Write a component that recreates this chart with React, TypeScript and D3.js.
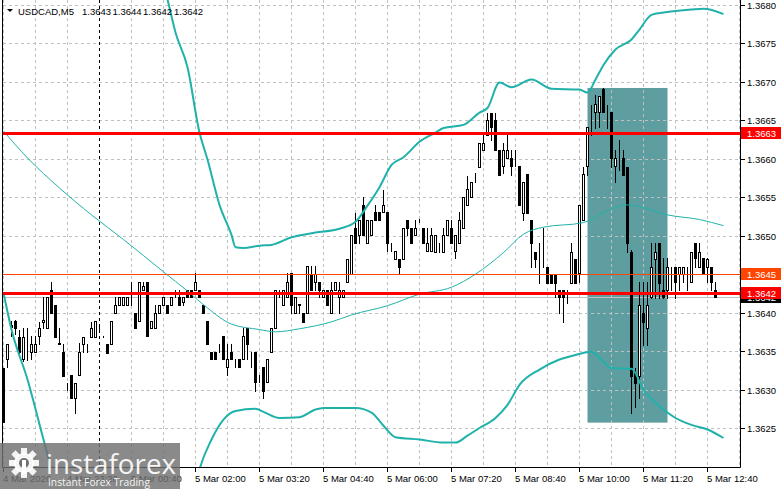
import React from "react";
import * as d3 from "d3";

const W = 781;
const H = 489;
const PLOT_L = 2.5;
const PLOT_R = 740.5;
const PLOT_B = 467.5;

const symbolTitle = "USDCAD,M5";
const titleOHLC = ["1.3643", "1.3644", "1.3642", "1.3642"];

// bar 0 = 4 Mar 22:00, M5 bars
const openP = [
  1.36328,1.3634,1.36384,1.36389,1.36368,1.3634,1.36365,1.36349,1.36349,1.3637,
  1.36388,1.3638,1.3643,1.3641,1.36361,1.36349,1.36309,1.36319,1.36289,1.36319,
  1.36359,1.36359,1.36368,1.36368,1.36381,1.3637,1.36359,1.36359,1.364,1.3641,
  1.3641,1.3641,1.3641,1.364,1.36389,1.3643,1.3644,1.3638,1.3638,1.364,
  1.3641,1.3641,1.3641,1.3643,1.3642,1.36414,1.3643,1.3643,1.3643,1.3643,
  1.3641,1.36389,1.36349,1.36349,1.36358,1.3637,1.36329,1.36349,1.3634,1.3634,
  1.3634,1.3638,1.3634,1.36349,1.36319,1.36329,1.3631,1.36349,1.3638,1.3643,
  1.3641,1.3642,1.36452,1.364,1.3641,1.364,1.364,1.3645,1.3644,1.3644,
  1.3642,1.3643,1.364,1.3643,1.3642,1.3642,1.3644,1.3645,1.3651,1.36501,
  1.3654,1.36491,1.36501,1.36531,1.36531,1.36531,1.36531,1.36491,1.3647,1.3647,
  1.3647,1.3652,1.3651,1.36501,1.3652,1.3651,1.3648,1.3648,1.36479,1.36491,
  1.36479,1.36501,1.3651,1.3648,1.36491,1.3651,1.3654,1.3655,1.36578,1.36589,
  1.36611,1.36631,1.3666,1.3665,1.36611,1.36591,1.36601,1.36601,1.36601,1.36591,
  1.3653,1.3658,1.3652,1.36479,1.36479,1.36475,1.36459,1.3645,1.3645,1.3643,
  1.3643,1.36427,1.36439,1.3647,1.36452,1.3652,1.36591,1.36652,1.36661,1.36661,
  1.36691,1.36661,1.36661,1.36591,1.36611,1.36601,1.36589,1.36479,1.36322,1.36318,
  1.364,1.3638,1.3642,1.3647,1.36491,1.3643,1.3643,1.3645,1.36459,1.3645,
  1.3645,1.3645,1.3644,1.36491,1.36459,1.36471,1.36459,1.36459,1.3643
];
const highP = [
  1.36328,1.36359,1.36389,1.3639,1.36378,1.3638,1.3638,1.3637,1.3637,1.36388,
  1.3642,1.3642,1.3644,1.3641,1.3638,1.36359,1.36309,1.36319,1.36309,1.36361,
  1.36368,1.36359,1.36388,1.36389,1.36384,1.3637,1.36359,1.36389,1.3642,1.3642,
  1.3642,1.3642,1.3644,1.364,1.3644,1.3644,1.3644,1.36389,1.3641,1.3641,
  1.3642,1.3641,1.3642,1.3643,1.3643,1.3642,1.3643,1.3643,1.36452,1.3643,
  1.3641,1.36389,1.36349,1.36349,1.36359,1.3637,1.36359,1.36359,1.3634,1.3634,
  1.3638,1.3638,1.36349,1.36349,1.36319,1.36329,1.3634,1.3638,1.3643,1.3643,
  1.3643,1.36452,1.36452,1.3642,1.36411,1.364,1.36461,1.36461,1.36461,1.3644,
  1.3643,1.3643,1.3644,1.3644,1.3644,1.3643,1.3647,1.36501,1.3653,1.3652,
  1.3655,1.3652,1.3652,1.3654,1.36531,1.36559,1.36531,1.36491,1.3648,1.3647,
  1.3651,1.3652,1.3651,1.3652,1.36522,1.3651,1.3651,1.3651,1.36501,1.36491,
  1.3651,1.3652,1.3652,1.36501,1.36531,1.3655,1.36578,1.3657,1.36582,1.36621,
  1.36631,1.3666,1.3666,1.3666,1.36611,1.36621,1.36631,1.36611,1.36611,1.36591,
  1.3657,1.3658,1.3652,1.36479,1.36491,1.3651,1.36459,1.3645,1.3645,1.3643,
  1.3643,1.3643,1.36491,1.3647,1.3654,1.36589,1.36641,1.3667,1.36683,1.36682,
  1.36692,1.3667,1.36661,1.36611,1.36624,1.36611,1.36589,1.36481,1.36328,1.3644,
  1.3644,1.3644,1.36491,1.36491,1.36491,1.36471,1.36471,1.36459,1.36459,1.36459,
  1.36459,1.36459,1.36479,1.36491,1.36491,1.36471,1.36471,1.36459,1.3644
];
const lowP = [
  1.36258,1.36329,1.3637,1.36372,1.36346,1.36337,1.36338,1.3634,1.36349,1.36359,
  1.3638,1.3638,1.364,1.36368,1.36359,1.36318,1.363,1.36289,1.3627,1.36319,
  1.36349,1.36349,1.36368,1.36368,1.36379,1.36368,1.36348,1.36359,1.364,1.3641,
  1.3641,1.3641,1.3641,1.3638,1.36389,1.3643,1.3637,1.3638,1.3638,1.364,
  1.3641,1.364,1.3641,1.3642,1.3641,1.3641,1.3642,1.3642,1.3643,1.3642,
  1.364,1.36359,1.3634,1.3634,1.36349,1.3634,1.36319,1.3634,1.36329,1.36329,
  1.3634,1.3634,1.36329,1.36298,1.3631,1.36289,1.3631,1.36349,1.3638,1.3642,
  1.3641,1.3642,1.364,1.364,1.364,1.36388,1.364,1.3643,1.3643,1.3642,
  1.3642,1.3641,1.364,1.3643,1.364,1.3642,1.3644,1.3645,1.36491,1.36491,
  1.36501,1.36491,1.36501,1.3652,1.3652,1.36531,1.3648,1.3648,1.3647,1.3645,
  1.3647,1.36501,1.36491,1.36501,1.36518,1.36491,1.3648,1.3648,1.36479,1.36479,
  1.36479,1.36501,1.36491,1.36471,1.36491,1.3651,1.3654,1.3655,1.3657,1.36589,
  1.36611,1.36631,1.36624,1.36611,1.36579,1.36582,1.36601,1.36579,1.36591,1.3654,
  1.3652,1.3653,1.36459,1.36459,1.36439,1.36459,1.36439,1.36439,1.3642,1.364,
  1.36388,1.36413,1.36439,1.36439,1.3644,1.3652,1.36579,1.36631,1.3664,1.36641,
  1.36661,1.3664,1.36589,1.3657,1.36585,1.36579,1.36479,1.3627,1.36277,1.36289,
  1.36358,1.36358,1.36419,1.36419,1.36419,1.36419,1.36419,1.3643,1.36419,1.3643,
  1.3644,1.3643,1.3644,1.36459,1.36459,1.3645,1.3644,1.3643,1.3642
];
const closeP = [
  1.36258,1.36359,1.36381,1.3638,1.36349,1.36368,1.36365,1.36359,1.36359,1.3638,
  1.3639,1.3642,1.364,1.36368,1.36359,1.36318,1.36309,1.36289,1.36309,1.36349,
  1.36368,1.36359,1.3638,1.36389,1.36381,1.3637,1.36348,1.36389,1.3641,1.3642,
  1.3642,1.3642,1.3641,1.3638,1.3644,1.36435,1.3637,1.36389,1.364,1.3641,
  1.3642,1.364,1.3642,1.3643,1.3641,1.3642,1.3642,1.3642,1.3644,1.3642,
  1.364,1.36359,1.3634,1.3634,1.36358,1.3634,1.3634,1.3634,1.3634,1.36329,
  1.3637,1.36359,1.3634,1.3631,1.36319,1.36298,1.3634,1.3638,1.3643,1.3643,
  1.3643,1.3644,1.3641,1.3642,1.36411,1.36388,1.36461,1.3643,1.3645,1.3643,
  1.3643,1.3641,1.3643,1.3644,1.3643,1.3643,1.3647,1.36501,1.36491,1.3652,
  1.36501,1.3652,1.3652,1.3652,1.3652,1.3654,1.36491,1.36491,1.3648,1.36459,
  1.3651,1.3651,1.36491,1.3651,1.3652,1.36491,1.36491,1.36501,1.36501,1.36491,
  1.36501,1.3652,1.36491,1.36501,1.3652,1.3655,1.36561,1.3657,1.36578,1.36621,
  1.36621,1.3665,1.36641,1.36611,1.36579,1.36611,1.36611,1.36591,1.36601,1.3654,
  1.3657,1.3653,1.36491,1.3647,1.36479,1.36475,1.36439,1.36439,1.36439,1.3642,
  1.3642,1.36427,1.36479,1.36439,1.3654,1.3658,1.36641,1.36652,1.36671,1.36682,
  1.36661,1.36661,1.36601,1.36601,1.36611,1.36579,1.36491,1.36318,1.36309,1.3641,
  1.36388,1.3641,1.36459,1.36479,1.36439,1.3642,1.36459,1.3645,1.3644,1.36459,
  1.36459,1.3645,1.36479,1.36471,1.36479,1.3645,1.3647,1.3644,1.3642
];

// Bollinger bands (20) read at sample bars
const upperBar = [39,41,43,46,49,51,54,57,58,60,64,67,72,78,84,88,91,94,97,100,104,108,110,115,119,121,124,127,132,137,144,146,148,150,153,157,159,162,165,172,175,180];
const upperVal = [1.36843,1.36807,1.36764,1.36719,1.36634,1.36599,1.3654,1.36501,1.36485,1.36484,1.36487,1.36488,1.36498,1.36504,1.36509,1.36518,1.36539,1.36563,1.36592,1.36602,1.36622,1.36634,1.3664,1.36644,1.3666,1.36666,1.36699,1.36693,1.36703,1.36691,1.3669,1.36686,1.36703,1.36722,1.36742,1.36755,1.36768,1.36787,1.3679,1.36794,1.36795,1.36788];
const middleBar = [0,6,14,22,30,40,46,51,57,64,68,74,82,87,96,104,112,118,125,130,135,145,150,156,158,166,174,180];
const middleVal = [1.36636,1.36601,1.36562,1.36527,1.36495,1.36453,1.36428,1.36406,1.36385,1.36378,1.36375,1.36379,1.36388,1.36397,1.36409,1.36424,1.36433,1.3645,1.36478,1.36502,1.36511,1.36517,1.3653,1.3654,1.36539,1.36527,1.36521,1.36513];
const lowerBar = [0,2,6,10,12,19,37,47,49,52,55,58,63,65,69,74,78,80,88,92,95,98,104,110,113,116,119,123,126,129,134,139,143,147,149,152,157,160,165,168,172,176,180];
const lowerVal = [1.36426,1.36378,1.36313,1.36235,1.36196,1.36105,1.36079,1.3615,1.36196,1.36235,1.36261,1.36272,1.36275,1.36271,1.36263,1.36264,1.36274,1.36276,1.36276,1.3627,1.36253,1.36238,1.36235,1.36231,1.36231,1.3624,1.3625,1.36263,1.3628,1.36306,1.36326,1.36339,1.36345,1.36349,1.36341,1.36328,1.36327,1.363,1.36274,1.36263,1.36254,1.36248,1.36237];

const priceTicks = [1.3625,1.363,1.3635,1.364,1.3645,1.365,1.3655,1.366,1.3665,1.367,1.3675,1.368];
const timeLabelBars = [0,16,32,48,64,80,96,112,128,144,160,176];
const timeLabelText = ["4 Mar 2026","4 Mar 23:20","5 Mar 00:40","5 Mar 02:00","5 Mar 03:20","5 Mar 04:40","5 Mar 06:00","5 Mar 07:20","5 Mar 08:40","5 Mar 10:00","5 Mar 11:20","5 Mar 12:40"];
const daySeparatorBar = 24;

const levelPrice = [1.36634, 1.3645, 1.36426];
const levelLabel = ["1.3663", "1.3645", "1.3642"];
const levelColor = ["#FF0000", "#FF4500", "#FF0000"];
const levelWidth = [3, 1, 3];

const rectBars = [146, 166];
const rectPrices = [1.36692, 1.36257];

const FONT = "'Liberation Sans', Arial, sans-serif";

export default function App() {
  const n = openP.length;
  const x = d3.scaleLinear().domain([0, 178]).range([3.5, 715.5]);
  const y = d3.scaleLinear().domain([1.361993, 1.3680637]).range([467, 0]);
  const ry = (v: number) => Math.round(y(v));

  const bandLine = d3
    .line<[number, number]>()
    .x((d) => x(d[0]))
    .y((d) => y(d[1]))
    .curve(d3.curveMonotoneX);
  const upper = bandLine(upperBar.map((b, i) => [b, upperVal[i]]) as [number, number][]) || "";
  const middle = bandLine(middleBar.map((b, i) => [b, middleVal[i]]) as [number, number][]) || "";
  const lower = bandLine(lowerBar.map((b, i) => [b, lowerVal[i]]) as [number, number][]) || "";

  const vGrid: number[] = [];
  for (let b = 0; b <= 184; b += 8) vGrid.push(b);

  const lastClose = closeP[n - 1];

  const candles = d3.range(n).map((i) => {
    const cx = x(i);
    const o = openP[i], c = closeP[i], h = highP[i], l = lowP[i];
    const yH = ry(h), yL = ry(l);
    const up = c >= o;
    const yTop = ry(Math.max(o, c));
    const yBot = ry(Math.min(o, c));
    return (
      <g key={i}>
        <line x1={cx} x2={cx} y1={yH} y2={yL + 1} stroke="#000" strokeWidth={1} />
        {up ? (
          <rect x={cx - 1} y={yTop + 0.5} width={2} height={Math.max(0, yBot - yTop)} fill="#fff" stroke="#000" strokeWidth={1} />
        ) : (
          <rect x={cx - 1.5} y={yTop} width={3} height={Math.max(1, yBot - yTop + 1)} fill="#000" />
        )}
      </g>
    );
  });

  const rx0 = x(rectBars[0]);
  const rx1 = x(rectBars[1]);
  const ry0 = y(rectPrices[0]);
  const ry1 = y(rectPrices[1]);

  const gearTeeth = d3.range(8).map((k) => k * 45);
  const titleNumX = [82, 112.5, 143, 174];

  return (
    <svg
      width={W}
      height={H}
      viewBox={`0 0 ${W} ${H}`}
      style={{ position: "absolute", left: 0, top: 0, background: "#fff" }}
      fontFamily={FONT}
    >
      <defs>
        <clipPath id="plot">
          <rect x={3} y={0} width={737} height={467} />
        </clipPath>
      </defs>
      <rect x={0} y={0} width={W} height={H} fill="#fff" />

      <g clipPath="url(#plot)">
        <rect x={rx0} y={ry0} width={rx1 - rx0} height={ry1 - ry0} fill="#5F9EA0" />
        {priceTicks.map((p) => (
          <line key={"hg" + p} x1={3} x2={740} y1={ry(p) + 0.5} y2={ry(p) + 0.5} stroke="#C0C0C0" strokeDasharray="3,3" />
        ))}
        {vGrid.map((b) =>
          b === daySeparatorBar ? null : (
            <line key={"vg" + b} x1={x(b)} x2={x(b)} y1={0} y2={467} stroke="#C0C0C0" strokeDasharray="3,3" />
          )
        )}
        <line x1={x(daySeparatorBar)} x2={x(daySeparatorBar)} y1={0} y2={467} stroke="#000" strokeDasharray="3,3" />
        <line x1={3} x2={740} y1={ry(lastClose) + 0.5} y2={ry(lastClose) + 0.5} stroke="#C0C0C0" />
        {candles}
        <path d={upper} fill="none" stroke="#20B2AA" strokeWidth={2} />
        <path d={middle} fill="none" stroke="#20B2AA" strokeWidth={1} />
        <path d={lower} fill="none" stroke="#20B2AA" strokeWidth={2} />
        {levelPrice.map((p, i) => {
          const yy = levelWidth[i] % 2 === 1 ? ry(p) + 0.5 : ry(p);
          return <line key={"lv" + i} x1={3} x2={740} y1={yy} y2={yy} stroke={levelColor[i]} strokeWidth={levelWidth[i]} />;
        })}
      </g>

      <line x1={PLOT_L} x2={PLOT_L} y1={0} y2={PLOT_B} stroke="#000" />
      <line x1={PLOT_R} x2={PLOT_R} y1={0} y2={PLOT_B} stroke="#000" />
      <line x1={PLOT_L} x2={PLOT_R} y1={PLOT_B} y2={PLOT_B} stroke="#000" />

      {priceTicks.map((p) => (
        <g key={"pt" + p}>
          <line x1={741} x2={745} y1={ry(p) + 0.5} y2={ry(p) + 0.5} stroke="#000" />
          <text x={747} y={ry(p) + 4} fontSize={9.5} fill="#000">
            {p.toFixed(4)}
          </text>
        </g>
      ))}

      <rect x={741} y={ry(lastClose) - 6} width={40} height={12} fill="#000" />
      <text x={747} y={ry(lastClose) + 4} fontSize={9.5} fill="#fff">
        {lastClose.toFixed(4)}
      </text>
      {levelPrice.map((p, i) => (
        <g key={"ll" + i}>
          <rect x={741} y={ry(p) - 6} width={40} height={12} fill={levelColor[i]} />
          <text x={747} y={ry(p) + 4} fontSize={9.5} fill="#fff">
            {levelLabel[i]}
          </text>
        </g>
      ))}

      {timeLabelBars.map((b, i) => (
        <g key={"tl" + b}>
          <line x1={x(b)} x2={x(b)} y1={468} y2={472} stroke="#000" />
          <text x={x(b) - 0.5} y={482} fontSize={9.5} fill="#000">
            {timeLabelText[i]}
          </text>
        </g>
      ))}

      <path d="M7,9 L13,9 L10,12 Z" fill="#000" />
      <text x={18} y={14.5} fontSize={9.5} fill="#000">
        {symbolTitle}
      </text>
      {titleOHLC.map((t, i) => (
        <text key={"to" + i} x={titleNumX[i]} y={14.5} fontSize={9.5} fill="#000">
          {t}
        </text>
      ))}

      <g>
        <rect x={0} y={443} width={180} height={46} fill="#707070" opacity={0.82} />
        <g transform="translate(24,463)">
          {gearTeeth.map((a) => (
            <rect key={a} x={-3} y={-15} width={6} height={7} fill="#fff" opacity={0.9} transform={`rotate(${a})`} />
          ))}
          <circle r={10} fill="#fff" opacity={0.9} />
          <circle r={5} fill="#707070" />
          <rect x={-2} y={-3} width={4} height={14} fill="#fff" />
        </g>
        <text x={46} y={474} fontSize={28} fill="#fff" fontFamily="'Open Sans', 'DejaVu Sans', sans-serif" textLength={130} lengthAdjust="spacingAndGlyphs" opacity={0.92}>
          instaforex
        </text>
        <text x={48} y={486} fontSize={10} fill="#fff" fontFamily="'Open Sans', 'DejaVu Sans', sans-serif" textLength={102} lengthAdjust="spacingAndGlyphs" opacity={0.92}>
          Instant Forex Trading
        </text>
      </g>
    </svg>
  );
}
